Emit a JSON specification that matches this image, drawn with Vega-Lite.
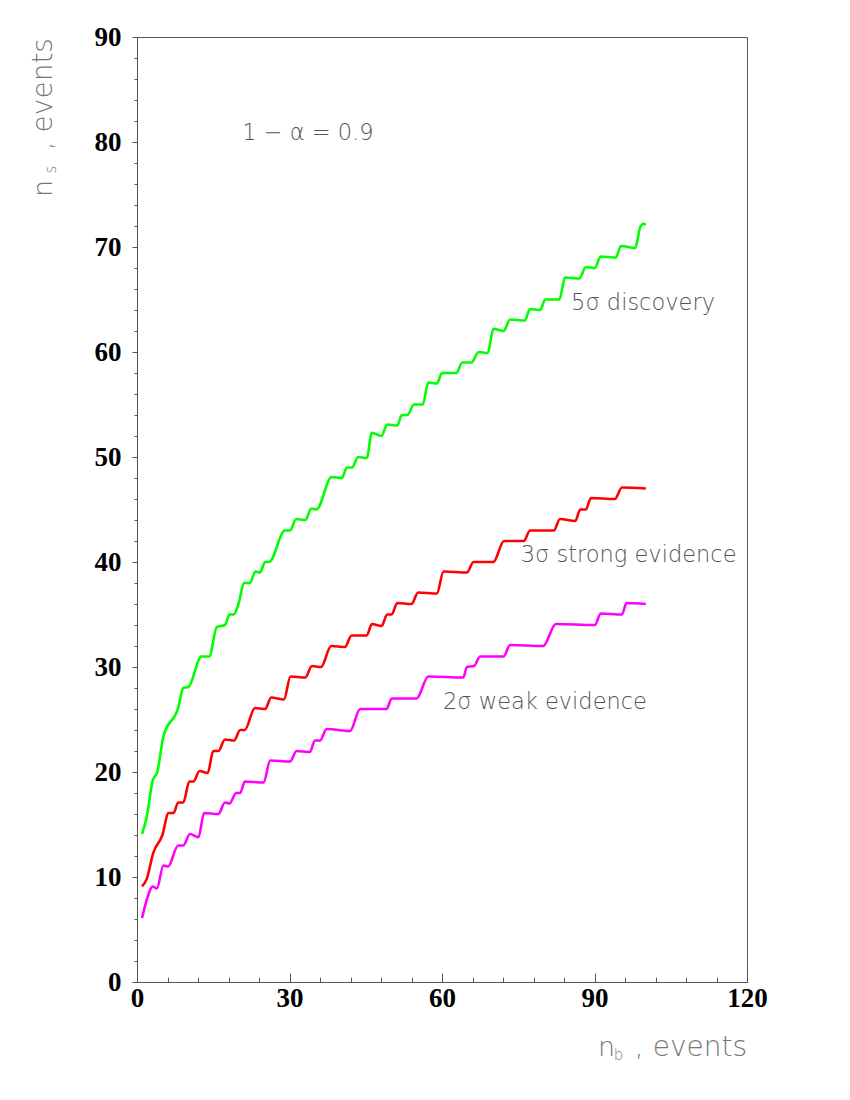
{
  "$schema": "https://vega.github.io/schema/vega-lite/v6.json",
  "width": 610,
  "height": 945,
  "autosize": {"type": "none"},
  "padding": {"left": 137, "top": 37, "right": 103, "bottom": 118},
  "background": "white",
  "config": {
    "view": {"stroke": "#555555", "strokeWidth": 1},
    "axis": {"grid": false, "domainColor": "#555555", "tickColor": "#555555", "labelFont": "Liberation Serif", "labelFontWeight": "bold", "labelFontSize": 27, "labelColor": "#000000", "labelOverlap": false, "labelFlush": false},
    "text": {"font": "DejaVu Sans", "fontWeight": 200, "color": "#555555"}
  },
  "resolve": {"axis": {"x": "independent", "y": "independent"}},
  "datasets": {
    "curves": [
      {"s":"5s","nb":1.0,"ns":14.1},{"s":"5s","nb":1.9,"ns":15.7},{"s":"5s","nb":3.1,"ns":19.2},{"s":"5s","nb":4.0,"ns":20.0},{"s":"5s","nb":5.2,"ns":23.4},{"s":"5s","nb":8.1,"ns":26.1},{"s":"5s","nb":9.1,"ns":28.0},{"s":"5s","nb":10.1,"ns":28.1},{"s":"5s","nb":12.7,"ns":31.0},{"s":"5s","nb":14.2,"ns":31.0},{"s":"5s","nb":15.7,"ns":33.8},{"s":"5s","nb":17.3,"ns":34.0},{"s":"5s","nb":18.2,"ns":35.0},{"s":"5s","nb":19.0,"ns":35.0},{"s":"5s","nb":19.9,"ns":35.9},{"s":"5s","nb":21.1,"ns":38.0},{"s":"5s","nb":22.2,"ns":38.0},{"s":"5s","nb":23.3,"ns":39.1},{"s":"5s","nb":24.2,"ns":39.0},{"s":"5s","nb":25.2,"ns":40.0},{"s":"5s","nb":26.0,"ns":40.0},{"s":"5s","nb":29.1,"ns":43.0},{"s":"5s","nb":30.1,"ns":43.0},{"s":"5s","nb":31.3,"ns":44.1},{"s":"5s","nb":33.1,"ns":44.0},{"s":"5s","nb":34.3,"ns":45.1},{"s":"5s","nb":35.3,"ns":45.0},{"s":"5s","nb":38.3,"ns":48.1},{"s":"5s","nb":40.3,"ns":48.0},{"s":"5s","nb":41.3,"ns":49.0},{"s":"5s","nb":42.3,"ns":49.0},{"s":"5s","nb":43.5,"ns":50.0},{"s":"5s","nb":45.2,"ns":49.9},{"s":"5s","nb":46.2,"ns":52.3},{"s":"5s","nb":48.1,"ns":52.0},{"s":"5s","nb":49.2,"ns":53.1},{"s":"5s","nb":51.2,"ns":53.0},{"s":"5s","nb":52.1,"ns":54.0},{"s":"5s","nb":53.2,"ns":54.0},{"s":"5s","nb":54.5,"ns":55.0},{"s":"5s","nb":56.2,"ns":55.0},{"s":"5s","nb":57.3,"ns":57.1},{"s":"5s","nb":59.0,"ns":57.0},{"s":"5s","nb":60.0,"ns":58.0},{"s":"5s","nb":62.8,"ns":58.0},{"s":"5s","nb":64.0,"ns":59.0},{"s":"5s","nb":65.8,"ns":59.0},{"s":"5s","nb":67.2,"ns":60.0},{"s":"5s","nb":68.9,"ns":59.9},{"s":"5s","nb":70.2,"ns":62.2},{"s":"5s","nb":72.1,"ns":62.0},{"s":"5s","nb":73.4,"ns":63.1},{"s":"5s","nb":76.3,"ns":63.0},{"s":"5s","nb":77.3,"ns":64.1},{"s":"5s","nb":79.3,"ns":64.0},{"s":"5s","nb":80.3,"ns":65.0},{"s":"5s","nb":83.1,"ns":65.0},{"s":"5s","nb":84.2,"ns":67.1},{"s":"5s","nb":87.0,"ns":67.0},{"s":"5s","nb":88.3,"ns":68.1},{"s":"5s","nb":90.1,"ns":68.0},{"s":"5s","nb":91.2,"ns":69.1},{"s":"5s","nb":94.2,"ns":69.0},{"s":"5s","nb":95.2,"ns":70.1},{"s":"5s","nb":98.0,"ns":69.9},{"s":"5s","nb":99.0,"ns":71.9},{"s":"5s","nb":99.6,"ns":72.2},{"s":"5s","nb":100.1,"ns":72.1},
      {"s":"3s","nb":1.0,"ns":9.1},{"s":"3s","nb":1.9,"ns":9.8},{"s":"3s","nb":3.2,"ns":12.3},{"s":"3s","nb":5.0,"ns":14.0},{"s":"3s","nb":6.2,"ns":16.1},{"s":"3s","nb":7.2,"ns":16.1},{"s":"3s","nb":8.1,"ns":17.1},{"s":"3s","nb":9.1,"ns":17.1},{"s":"3s","nb":10.3,"ns":19.1},{"s":"3s","nb":11.1,"ns":19.1},{"s":"3s","nb":12.3,"ns":20.1},{"s":"3s","nb":13.9,"ns":19.9},{"s":"3s","nb":15.0,"ns":22.0},{"s":"3s","nb":16.0,"ns":22.0},{"s":"3s","nb":17.3,"ns":23.1},{"s":"3s","nb":19.1,"ns":23.0},{"s":"3s","nb":20.3,"ns":24.0},{"s":"3s","nb":21.2,"ns":24.0},{"s":"3s","nb":23.2,"ns":26.1},{"s":"3s","nb":25.2,"ns":26.0},{"s":"3s","nb":26.4,"ns":27.1},{"s":"3s","nb":28.9,"ns":26.9},{"s":"3s","nb":30.2,"ns":29.1},{"s":"3s","nb":33.1,"ns":29.0},{"s":"3s","nb":34.4,"ns":30.1},{"s":"3s","nb":36.2,"ns":30.0},{"s":"3s","nb":38.2,"ns":32.0},{"s":"3s","nb":40.9,"ns":31.9},{"s":"3s","nb":42.2,"ns":33.0},{"s":"3s","nb":45.2,"ns":33.0},{"s":"3s","nb":46.2,"ns":34.1},{"s":"3s","nb":48.1,"ns":33.9},{"s":"3s","nb":49.2,"ns":35.0},{"s":"3s","nb":50.1,"ns":35.0},{"s":"3s","nb":51.2,"ns":36.1},{"s":"3s","nb":54.0,"ns":36.0},{"s":"3s","nb":55.3,"ns":37.1},{"s":"3s","nb":59.0,"ns":37.0},{"s":"3s","nb":60.3,"ns":39.1},{"s":"3s","nb":64.9,"ns":39.0},{"s":"3s","nb":66.2,"ns":40.0},{"s":"3s","nb":70.1,"ns":40.0},{"s":"3s","nb":72.2,"ns":42.0},{"s":"3s","nb":76.1,"ns":42.0},{"s":"3s","nb":77.3,"ns":43.0},{"s":"3s","nb":82.0,"ns":43.0},{"s":"3s","nb":83.2,"ns":44.1},{"s":"3s","nb":86.2,"ns":43.9},{"s":"3s","nb":87.2,"ns":45.0},{"s":"3s","nb":88.3,"ns":45.0},{"s":"3s","nb":89.3,"ns":46.1},{"s":"3s","nb":94.0,"ns":46.0},{"s":"3s","nb":95.4,"ns":47.1},{"s":"3s","nb":100.1,"ns":47.0},
      {"s":"2s","nb":1.0,"ns":6.1},{"s":"2s","nb":1.9,"ns":7.8},{"s":"2s","nb":3.1,"ns":9.1},{"s":"2s","nb":3.9,"ns":8.9},{"s":"2s","nb":5.2,"ns":11.1},{"s":"2s","nb":6.1,"ns":11.0},{"s":"2s","nb":8.1,"ns":13.0},{"s":"2s","nb":9.1,"ns":13.0},{"s":"2s","nb":10.4,"ns":14.1},{"s":"2s","nb":12.1,"ns":13.8},{"s":"2s","nb":13.2,"ns":16.1},{"s":"2s","nb":16.0,"ns":16.0},{"s":"2s","nb":17.3,"ns":17.1},{"s":"2s","nb":18.2,"ns":17.0},{"s":"2s","nb":19.5,"ns":18.0},{"s":"2s","nb":20.3,"ns":18.0},{"s":"2s","nb":21.2,"ns":19.1},{"s":"2s","nb":24.9,"ns":19.0},{"s":"2s","nb":26.2,"ns":21.1},{"s":"2s","nb":30.1,"ns":21.0},{"s":"2s","nb":31.4,"ns":22.0},{"s":"2s","nb":34.0,"ns":21.9},{"s":"2s","nb":35.0,"ns":23.0},{"s":"2s","nb":36.0,"ns":23.0},{"s":"2s","nb":37.3,"ns":24.1},{"s":"2s","nb":41.9,"ns":23.9},{"s":"2s","nb":43.9,"ns":26.0},{"s":"2s","nb":49.1,"ns":26.0},{"s":"2s","nb":50.1,"ns":27.0},{"s":"2s","nb":55.0,"ns":27.0},{"s":"2s","nb":57.3,"ns":29.1},{"s":"2s","nb":64.2,"ns":29.0},{"s":"2s","nb":64.9,"ns":30.0},{"s":"2s","nb":66.3,"ns":30.1},{"s":"2s","nb":67.5,"ns":31.0},{"s":"2s","nb":72.1,"ns":31.0},{"s":"2s","nb":73.4,"ns":32.1},{"s":"2s","nb":79.9,"ns":32.0},{"s":"2s","nb":82.4,"ns":34.1},{"s":"2s","nb":90.1,"ns":34.0},{"s":"2s","nb":91.2,"ns":35.1},{"s":"2s","nb":95.4,"ns":35.0},{"s":"2s","nb":96.3,"ns":36.1},{"s":"2s","nb":100.1,"ns":36.0}
    ],
    "labels": [
      {"label": "5σ discovery", "x": 85.4, "y": 64.7},
      {"label": "3σ strong evidence", "x": 75.5, "y": 40.7},
      {"label": "2σ weak evidence", "x": 60.2, "y": 26.7},
      {"label": "1 − α = 0.9", "x": 20.7, "y": 80.9}
    ],
    "one": [{}]
  },
  "layer": [
    {
      "data": {"name": "curves"},
      "mark": {"type": "line", "strokeWidth": 2.6, "interpolate": "monotone", "clip": false},
      "encoding": {
        "x": {"field": "nb", "type": "quantitative", "scale": {"domain": [0, 120], "nice": false, "zero": false},
              "axis": {"title": null, "orient": "bottom", "values": [0, 30, 60, 90, 120], "tickSize": -9, "labelPadding": 12}},
        "y": {"field": "ns", "type": "quantitative", "scale": {"domain": [0, 90], "nice": false, "zero": false},
              "axis": {"title": null, "orient": "left", "values": [0, 10, 20, 30, 40, 50, 60, 70, 80, 90], "tickSize": 5, "labelPadding": 11}},
        "color": {"field": "s", "type": "nominal", "scale": {"domain": ["5s", "3s", "2s"], "range": ["#00ff00", "#ff0000", "#ff00ff"]}, "legend": null},
        "detail": {"field": "s"}
      }
    },
    {
      "data": {"name": "labels"},
      "mark": {"type": "text", "align": "left", "baseline": "middle", "fontSize": 22.5},
      "encoding": {
        "x": {"field": "x", "type": "quantitative",
              "axis": {"title": null, "orient": "bottom", "labels": false, "domain": false, "tickSize": -5,
                       "values": [6,12,18,24,36,42,48,54,66,72,78,84,96,102,108,114]}},
        "y": {"field": "y", "type": "quantitative",
              "axis": {"title": null, "orient": "left", "labels": false, "domain": false, "tickSize": 3,
                       "values": [2,4,6,8,12,14,16,18,22,24,26,28,32,34,36,38,42,44,46,48,52,54,56,58,62,64,66,68,72,74,76,78,82,84,86,88]}},
        "text": {"field": "label"}
      }
    },
    {
      "data": {"name": "one"},
      "mark": {"type": "text", "align": "left", "baseline": "alphabetic", "fontSize": 27, "color": "#777777"},
      "encoding": {"x": {"datum": 90.7, "axis": null}, "y": {"datum": -7.05, "axis": null}, "text": {"value": "n"}}
    },
    {
      "data": {"name": "one"},
      "mark": {"type": "text", "align": "left", "baseline": "alphabetic", "fontSize": 15, "color": "#777777"},
      "encoding": {"x": {"datum": 93.8, "axis": null}, "y": {"datum": -7.45, "axis": null}, "text": {"value": "b"}}
    },
    {
      "data": {"name": "one"},
      "mark": {"type": "text", "align": "right", "baseline": "alphabetic", "fontSize": 28, "color": "#777777"},
      "encoding": {"x": {"datum": 120, "axis": null}, "y": {"datum": -7.05, "axis": null}, "text": {"value": ", events"}}
    },
    {
      "data": {"name": "one"},
      "mark": {"type": "text", "align": "left", "baseline": "alphabetic", "angle": 270, "fontSize": 27, "color": "#777777"},
      "encoding": {"x": {"datum": -16.7, "axis": null}, "y": {"datum": 74.76, "axis": null}, "text": {"value": "n"}}
    },
    {
      "data": {"name": "one"},
      "mark": {"type": "text", "align": "left", "baseline": "alphabetic", "angle": 270, "fontSize": 15, "color": "#777777"},
      "encoding": {"x": {"datum": -15.9, "axis": null}, "y": {"datum": 77.0, "axis": null}, "text": {"value": "s"}}
    },
    {
      "data": {"name": "one"},
      "mark": {"type": "text", "align": "right", "baseline": "alphabetic", "angle": 270, "fontSize": 28, "color": "#777777"},
      "encoding": {"x": {"datum": -16.7, "axis": null}, "y": {"datum": 89.9, "axis": null}, "text": {"value": ", events"}}
    }
  ]
}
